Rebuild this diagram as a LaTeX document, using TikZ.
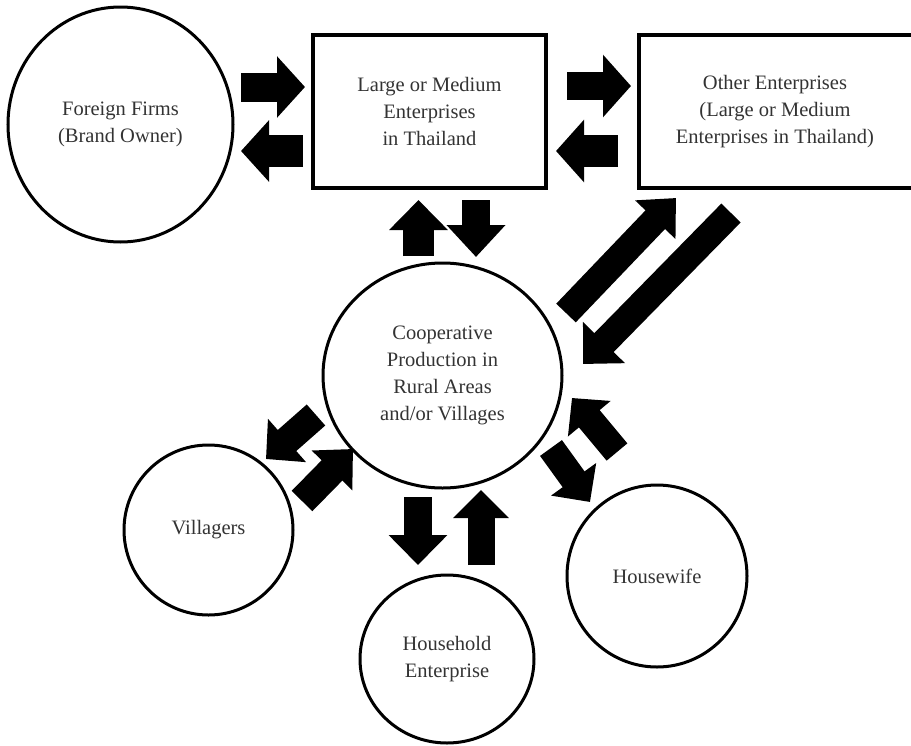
\documentclass[tikz,border=0pt]{standalone}
\usepackage{fontspec}
\setmainfont{Liberation Serif}
\usetikzlibrary{shapes.geometric,arrows.meta}
\begin{document}
\begin{tikzpicture}[x=1pt,y=-1pt,
  lbl/.style={align=center, text=black!80, font=\fontsize{20.5}{27}\selectfont, inner sep=0pt, outer sep=0pt},
  box/.style={lbl, draw=black, line width=3.2pt, rectangle},
  oval/.style={lbl, draw=black, line width=3pt, ellipse},
  barrow/.style n args={3}{draw=black, line width=#1, -{Triangle[length=#3,width=#2]}}]
\useasboundingbox (0,0) rectangle (911,745);

% nodes
\node[oval, minimum width=225pt, minimum height=235pt] (ff) at (120.5,124.5) {Foreign Firms\\(Brand Owner)};
\node[box, minimum width=233pt, minimum height=153pt] (lm) at (429.5,111.5) {Large or Medium\\Enterprises\\in Thailand};
\node[lbl, rectangle, minimum width=272pt, minimum height=153pt] (oe) at (775,111.5) {Other Enterprises\\(Large or Medium\\Enterprises in Thailand)};
\draw[line width=3.2pt] (oe.north east) -- (oe.north west) -- (oe.south west) -- (oe.south east);
\node[oval, minimum width=239pt, minimum height=225pt] (cp) at (442.5,375.5) {Cooperative\\Production in\\Rural Areas\\and/or Villages};
\node[oval, minimum width=169pt, minimum height=170pt] (vil) at (208.5,530) {Villagers};
\node[oval, minimum width=174pt, minimum height=168pt] (hh) at (447,659) {Household\\Enterprise};
\node[oval, minimum width=180pt, minimum height=182pt] (hw) at (657,576) {Housewife};

% arrow end points
\coordinate (a1s) at (241,87);   \coordinate (a1e) at (305,87);
\coordinate (a2s) at (303,151);  \coordinate (a2e) at (241,151);
\coordinate (a3s) at (567,86);   \coordinate (a3e) at (631,86);
\coordinate (a4s) at (618,151);  \coordinate (a4e) at (556,151);
\coordinate (a5s) at (418.5,256); \coordinate (a5e) at (418.5,200);
\coordinate (a6s) at (476,200);  \coordinate (a6e) at (476,257);
\coordinate (a7s) at (566,313);  \coordinate (a7e) at (676,198);
\coordinate (a8s) at (731,213);  \coordinate (a8e) at (583,364);
\coordinate (a9s) at (316,415);  \coordinate (a9e) at (266,459);
\coordinate (a10s) at (302,501); \coordinate (a10e) at (353,449);
\coordinate (a11s) at (418,497); \coordinate (a11e) at (418,565);
\coordinate (a12s) at (481,565); \coordinate (a12e) at (481,490);
\coordinate (a13s) at (551,448); \coordinate (a13e) at (590,502);
\coordinate (a14s) at (617,452); \coordinate (a14e) at (572,398);

% block arrows
\draw[barrow={29pt}{60pt}{28pt}] (a1s) -- (a1e);
\draw[barrow={32pt}{60pt}{28pt}] (a2s) -- (a2e);
\draw[barrow={28pt}{61pt}{28pt}] (a3s) -- (a3e);
\draw[barrow={32pt}{61pt}{28pt}] (a4s) -- (a4e);
\draw[barrow={31pt}{57pt}{30pt}] (a5s) -- (a5e);
\draw[barrow={28pt}{57pt}{32pt}] (a6s) -- (a6e);
\draw[barrow={27pt}{54pt}{30pt}] (a7s) -- (a7e);
\draw[barrow={27pt}{57pt}{30pt}] (a8s) -- (a8e);
\draw[barrow={28pt}{56pt}{28pt}] (a9s) -- (a9e);
\draw[barrow={29pt}{55pt}{30pt}] (a10s) -- (a10e);
\draw[barrow={28pt}{57pt}{30pt}] (a11s) -- (a11e);
\draw[barrow={27pt}{54pt}{28pt}] (a12s) -- (a12e);
\draw[barrow={27pt}{54pt}{28pt}] (a13s) -- (a13e);
\draw[barrow={27pt}{54pt}{27pt}] (a14s) -- (a14e);
\end{tikzpicture}
\end{document}
